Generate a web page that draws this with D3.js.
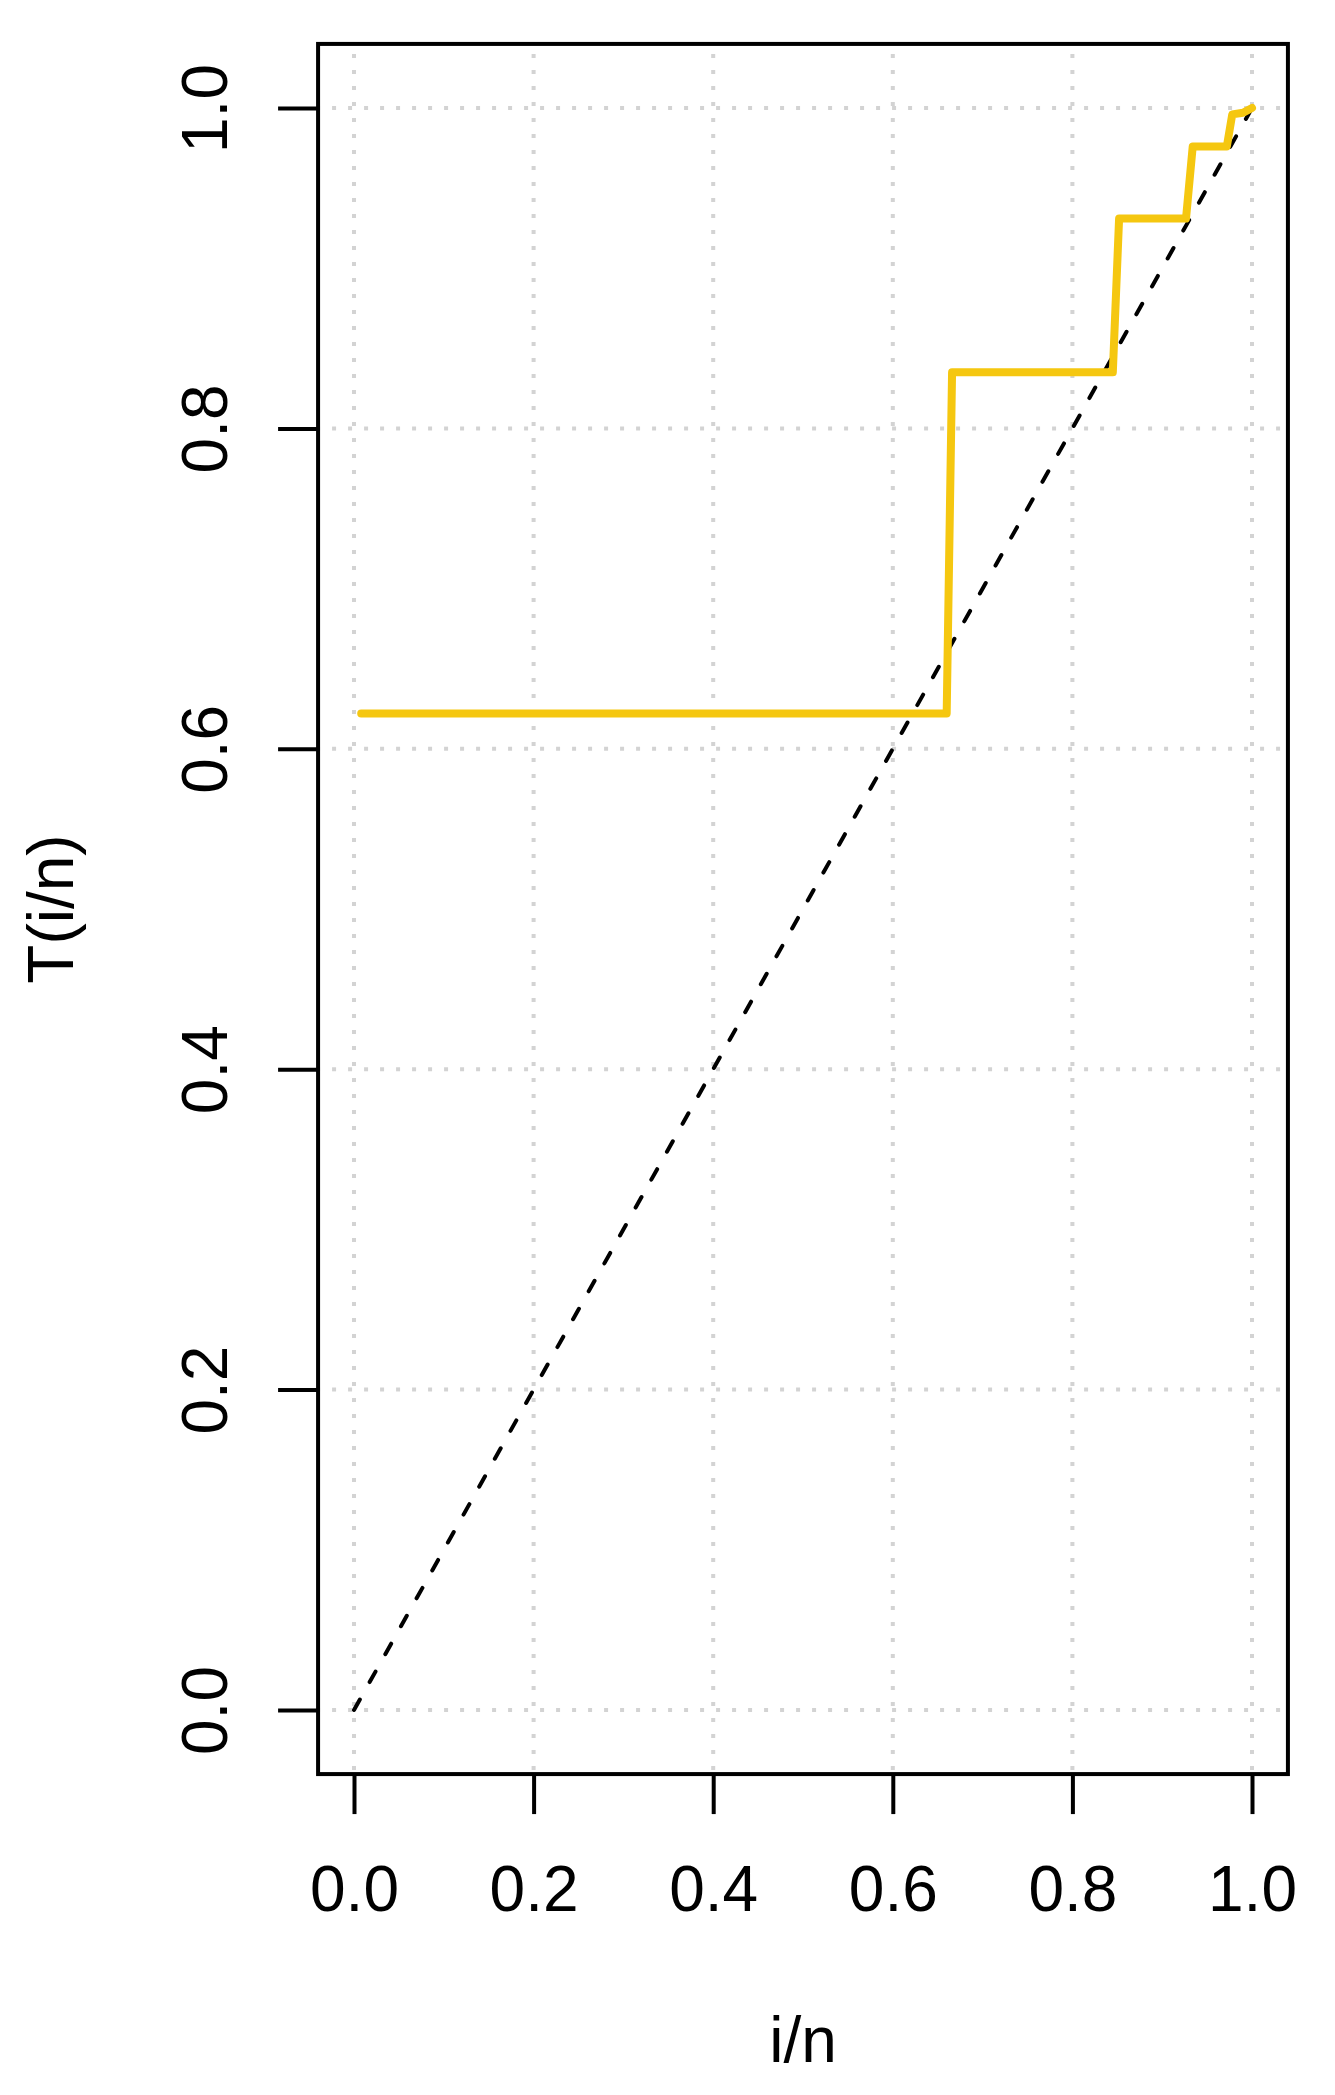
<!DOCTYPE html>
<html>
<head>
<meta charset="utf-8">
<script src="https://cdn.jsdelivr.net/npm/d3@7"></script>
<style>
  html, body { margin: 0; padding: 0; background: #ffffff; }
  svg { display: block; }
</style>
</head>
<body>
<svg id="chart" width="1335" height="2095"></svg>
<script>
// ---- data ----
const tickValues = [0.0, 0.2, 0.4, 0.6, 0.8, 1.0];
const tickLabels = ["0.0", "0.2", "0.4", "0.6", "0.8", "1.0"];
const stepX = [0.008, 0.660, 0.666, 0.845, 0.852, 0.9265, 0.934, 0.972, 0.978, 0.99, 1.0];
const stepY = [0.622, 0.622, 0.835, 0.835, 0.931, 0.931, 0.976, 0.976, 0.996, 0.997, 1.0];
const diagX = [0, 1];
const diagY = [0, 1];
const xTitle = "i/n";
const yTitle = "T(i/n)";

// ---- layout ----
const pLeft = 318.08, pRight = 1287.92, pTop = 43.92, pBottom = 1774.08;
const font = "'Liberation Sans', Arial, Helvetica, sans-serif";

const svg = d3.select("#chart");
const x = d3.scaleLinear().domain([-0.04, 1.04]).range([pLeft, pRight]);
const y = d3.scaleLinear().domain([-0.04, 1.04]).range([pBottom, pTop]);

// grid
const grid = svg.append("g").attr("stroke", "#D3D3D3").attr("stroke-width", 4)
  .attr("stroke-dasharray", "4,12").attr("fill", "none");
grid.selectAll("line.v").data(tickValues).join("line").attr("class", "v")
  .attr("x1", d => x(d)).attr("x2", d => x(d))
  .attr("y1", pTop).attr("y2", pBottom)
  .attr("stroke-dashoffset", 6);
grid.selectAll("line.h").data(tickValues).join("line").attr("class", "h")
  .attr("y1", d => y(d)).attr("y2", d => y(d))
  .attr("x1", pLeft).attr("x2", pRight)
  .attr("stroke-dashoffset", 2);

// diagonal dashed line
const diag = diagX.map((d, i) => [d, diagY[i]]);
svg.append("path").datum(diag)
  .attr("d", d3.line().x(d => x(d[0])).y(d => y(d[1])))
  .attr("fill", "none").attr("stroke", "#000").attr("stroke-width", 4)
  .attr("stroke-dasharray", "12,20").attr("stroke-linecap", "round");

// step line
const steps = stepX.map((d, i) => [d, stepY[i]]);
svg.append("path").datum(steps)
  .attr("d", d3.line().x(d => x(d[0])).y(d => y(d[1])))
  .attr("fill", "none").attr("stroke", "#F5C710").attr("stroke-width", 8)
  .attr("stroke-linecap", "round").attr("stroke-linejoin", "round");

// box
svg.append("rect").attr("x", pLeft).attr("y", pTop)
  .attr("width", pRight - pLeft).attr("height", pBottom - pTop)
  .attr("fill", "none").attr("stroke", "#000").attr("stroke-width", 4);

// axes
const xAxis = d3.axisBottom(x).tickValues(tickValues)
  .tickFormat((d, i) => tickLabels[i]).tickSize(40).tickSizeOuter(0);
const gx = svg.append("g").attr("transform", `translate(0,${pBottom})`).call(xAxis)
  .attr("font-family", font).attr("font-size", 64);
gx.select(".domain").remove();
gx.selectAll(".tick line").attr("stroke", "#000").attr("stroke-width", 4);
gx.selectAll(".tick text").attr("y", 137).attr("dy", 0)
  .attr("font-family", font).attr("font-size", 64).attr("fill", "#000");

const yAxis = d3.axisLeft(y).tickValues(tickValues)
  .tickFormat((d, i) => tickLabels[i]).tickSize(40).tickSizeOuter(0);
const gy = svg.append("g").attr("transform", `translate(${pLeft},0)`).call(yAxis)
  .attr("font-family", font).attr("font-size", 64);
gy.select(".domain").remove();
gy.selectAll(".tick line").attr("stroke", "#000").attr("stroke-width", 4);
gy.selectAll(".tick text").attr("x", 0).attr("dy", 0)
  .attr("transform", "translate(-91,0) rotate(-90)")
  .attr("text-anchor", "middle")
  .attr("font-family", font).attr("font-size", 64).attr("fill", "#000");

// titles
svg.append("text").attr("x", (pLeft + pRight) / 2).attr("y", 2062)
  .attr("text-anchor", "middle").attr("font-family", font).attr("font-size", 64)
  .attr("fill", "#000").text(xTitle);
svg.append("text").attr("transform", `translate(73,${(pTop + pBottom) / 2}) rotate(-90)`)
  .attr("text-anchor", "middle").attr("font-family", font).attr("font-size", 64)
  .attr("fill", "#000").text(yTitle);
</script>
</body>
</html>
